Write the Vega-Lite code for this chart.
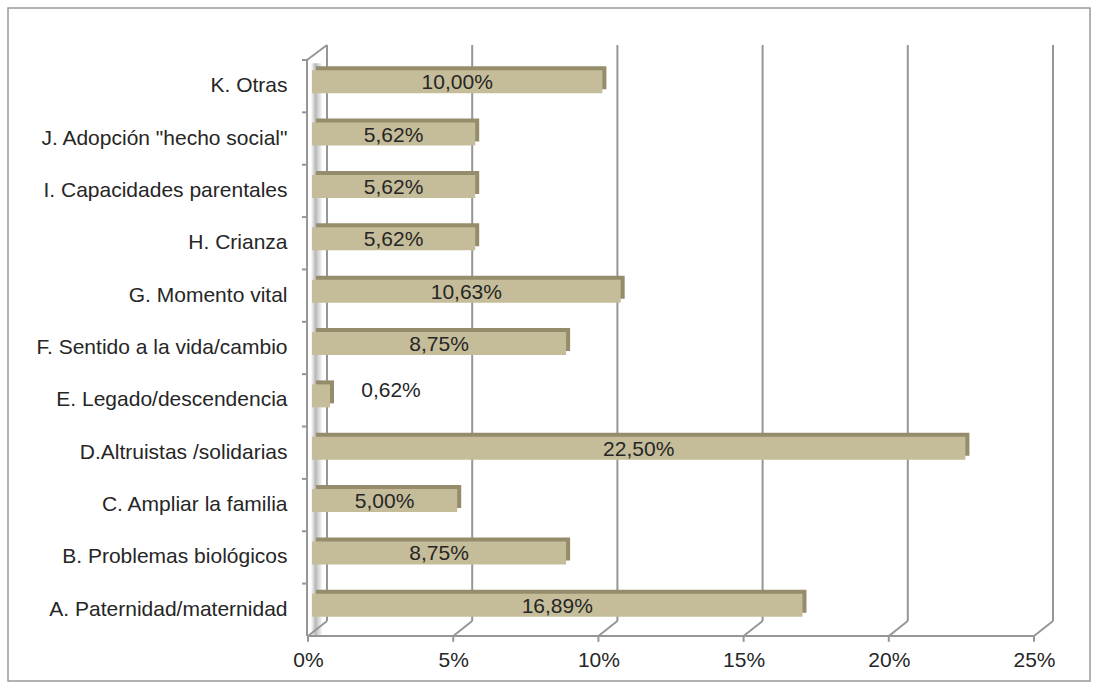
{
  "$schema": "https://vega.github.io/schema/vega-lite/v6.json",
  "width": 1082,
  "height": 673,
  "autosize": "none",
  "padding": {"left": 8, "top": 8, "right": 8, "bottom": 7},
  "background": "white",
  "config": {
    "view": {"stroke": "#9a9a9a", "strokeWidth": 1.5},
    "font": "Liberation Sans",
    "axis": {"labelFont": "Liberation Sans", "labelFontSize": 21, "labelColor": "#262626"}
  },
  "data": {
    "values": [
      {"categoria": "A. Paternidad/maternidad", "porcentaje": 16.89},
      {"categoria": "B. Problemas biológicos", "porcentaje": 8.75},
      {"categoria": "C. Ampliar la familia", "porcentaje": 5.0},
      {"categoria": "D.Altruistas /solidarias", "porcentaje": 22.5},
      {"categoria": "E. Legado/descendencia", "porcentaje": 0.62},
      {"categoria": "F. Sentido a la vida/cambio", "porcentaje": 8.75},
      {"categoria": "G. Momento vital", "porcentaje": 10.63},
      {"categoria": "H. Crianza", "porcentaje": 5.62},
      {"categoria": "I. Capacidades parentales", "porcentaje": 5.62},
      {"categoria": "J. Adopción \"hecho social\"", "porcentaje": 5.62},
      {"categoria": "K. Otras", "porcentaje": 10.0}
    ]
  },
  "resolve": {"scale": {"x": "shared", "y": "shared"}},
  "layer": [
    {
      "data": {"values": [{}]},
      "mark": {"type": "rect", "xOffset": -16, "x2Offset": -5, "yOffset": -8, "y2Offset": 41.2,
        "color": {"gradient": "linear", "x1": 0, "x2": 1, "y1": 0, "y2": 0,
          "stops": [{"offset": 0, "color": "#ffffff"}, {"offset": 0.4, "color": "#b8b8b8"}, {"offset": 1, "color": "#f7f7f7"}]}},
      "encoding": {
        "x": {"datum": 0, "type": "quantitative", "scale": {"domain": [0, 25], "range": [319, 1045], "nice": false}},
        "x2": {"datum": 0},
        "y": {"datum": "K. Otras", "type": "nominal", "scale": {"type": "band", "range": [37, 613], "paddingInner": 0, "paddingOuter": 0,
          "domain": ["K. Otras", "J. Adopción \"hecho social\"", "I. Capacidades parentales", "H. Crianza", "G. Momento vital", "F. Sentido a la vida/cambio", "E. Legado/descendencia", "D.Altruistas /solidarias", "C. Ampliar la familia", "B. Problemas biológicos", "A. Paternidad/maternidad"]},
          "axis": {"orient": "left", "offset": -319, "title": null, "domain": false, "ticks": false, "labelPadding": 40, "labelOffset": 15, "labelLimit": 400}},
        "y2": {"datum": "A. Paternidad/maternidad"}
      }
    },
    {
      "data": {"values": [{"t": 0}, {"t": 5}, {"t": 10}, {"t": 15}, {"t": 20}, {"t": 25}]},
      "mark": {"type": "rule", "color": "#969696", "strokeWidth": 2, "yOffset": -26.2, "y2Offset": 26.2},
      "encoding": {
        "x": {"field": "t", "type": "quantitative",
          "axis": {"orient": "bottom", "offset": -45, "title": null, "domain": false, "ticks": false, "grid": false,
            "values": [0, 5, 10, 15, 20, 25], "labelFlush": false, "labelOffset": -19, "labelPadding": 13, "labelExpr": "datum.value + '%'"}},
        "y": {"datum": "K. Otras", "type": "nominal"},
        "y2": {"datum": "A. Paternidad/maternidad"}
      }
    },
    {
      "data": {"values": [{"t": 0}, {"t": 5}, {"t": 10}, {"t": 15}, {"t": 20}, {"t": 25}]},
      "mark": {"type": "rule", "color": "#969696", "strokeWidth": 2, "yOffset": 26.2, "y2Offset": 41.2, "x2Offset": -19},
      "encoding": {
        "x": {"field": "t", "type": "quantitative"},
        "x2": {"field": "t"},
        "y": {"datum": "A. Paternidad/maternidad", "type": "nominal"},
        "y2": {"datum": "A. Paternidad/maternidad"}
      }
    },
    {
      "data": {"values": [{"t": 0}, {"t": 5}, {"t": 10}, {"t": 15}, {"t": 20}, {"t": 25}]},
      "mark": {"type": "rule", "color": "#969696", "strokeWidth": 2, "xOffset": -19, "yOffset": 41.2, "y2Offset": 47},
      "encoding": {
        "x": {"field": "t", "type": "quantitative"},
        "y": {"datum": "A. Paternidad/maternidad", "type": "nominal"},
        "y2": {"datum": "A. Paternidad/maternidad"}
      }
    },
    {
      "data": {"values": [{}]},
      "mark": {"type": "rule", "color": "#969696", "strokeWidth": 2, "xOffset": -19, "x2Offset": -19, "yOffset": 41.2},
      "encoding": {
        "x": {"datum": 0, "type": "quantitative"},
        "x2": {"datum": 25},
        "y": {"datum": "A. Paternidad/maternidad", "type": "nominal"}
      }
    },
    {
      "data": {"values": [{}]},
      "mark": {"type": "rule", "color": "#969696", "strokeWidth": 2, "xOffset": -20, "yOffset": -11.2, "y2Offset": 41.2},
      "encoding": {
        "x": {"datum": 0, "type": "quantitative"},
        "y": {"datum": "K. Otras", "type": "nominal"},
        "y2": {"datum": "A. Paternidad/maternidad"}
      }
    },
    {
      "data": {"values": [{}]},
      "mark": {"type": "rule", "color": "#969696", "strokeWidth": 2, "x2Offset": -20, "yOffset": -26.2, "y2Offset": -11.2},
      "encoding": {
        "x": {"datum": 0, "type": "quantitative"},
        "x2": {"datum": 0},
        "y": {"datum": "K. Otras", "type": "nominal"},
        "y2": {"datum": "K. Otras"}
      }
    },
    {
      "mark": {"type": "rule", "color": "#969696", "strokeWidth": 2, "xOffset": -25, "x2Offset": -20, "yOffset": -11.2},
      "encoding": {
        "x": {"datum": 0, "type": "quantitative"},
        "x2": {"datum": 0},
        "y": {"field": "categoria", "type": "nominal"}
      }
    },
    {
      "mark": {"type": "bar", "color": "#958c6c", "size": 23, "xOffset": -11, "x2Offset": -11, "yOffset": 6.5},
      "encoding": {
        "x": {"field": "porcentaje", "type": "quantitative"},
        "x2": {"datum": 0},
        "y": {"field": "categoria", "type": "nominal"}
      }
    },
    {
      "mark": {"type": "bar", "color": "#c5bd99", "size": 23, "xOffset": -15, "x2Offset": -15, "yOffset": 10.5},
      "encoding": {
        "x": {"field": "porcentaje", "type": "quantitative"},
        "x2": {"datum": 0},
        "y": {"field": "categoria", "type": "nominal"}
      }
    },
    {
      "transform": [
        {"filter": "datum.porcentaje >= 1"},
        {"calculate": "datum.porcentaje / 2", "as": "medio"},
        {"calculate": "replace(format(datum.porcentaje, '.2f'), '.', ',') + '%'", "as": "etiqueta"}
      ],
      "mark": {"type": "text", "font": "Liberation Sans", "fontSize": 21, "color": "#262626", "align": "center", "baseline": "middle", "xOffset": -15, "yOffset": 12},
      "encoding": {
        "x": {"field": "medio", "type": "quantitative"},
        "y": {"field": "categoria", "type": "nominal"},
        "text": {"field": "etiqueta"}
      }
    },
    {
      "transform": [
        {"filter": "datum.porcentaje < 1"},
        {"calculate": "replace(format(datum.porcentaje, '.2f'), '.', ',') + '%'", "as": "etiqueta"}
      ],
      "mark": {"type": "text", "font": "Liberation Sans", "fontSize": 21, "color": "#262626", "align": "center", "baseline": "middle", "xOffset": 46, "yOffset": 6},
      "encoding": {
        "x": {"field": "porcentaje", "type": "quantitative"},
        "y": {"field": "categoria", "type": "nominal"},
        "text": {"field": "etiqueta"}
      }
    }
  ]
}
